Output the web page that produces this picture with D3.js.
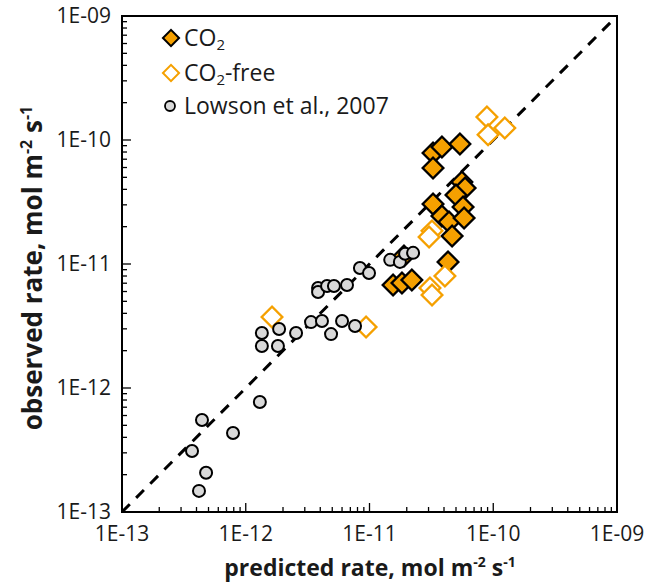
<!DOCTYPE html>
<html><head><meta charset="utf-8">
<script src="https://cdn.jsdelivr.net/npm/d3@7"></script>
<style>body{margin:0;background:#fff}svg{display:block}</style>
</head><body>
<svg id="c" width="660" height="585"></svg>
<script>
// predicted, observed (mol m-2 s-1)
const co2Pred = [3.26e-11,3.85e-11,5.38e-11,3.26e-11,5.58e-11,5.92e-11,5.0e-11,3.26e-11,5.70e-11,3.85e-11,4.39e-11,5.81e-11,4.65e-11,4.31e-11,1.55e-11,1.83e-11,2.20e-11,1.90e-11];
const co2Obs  = [7.85e-11,8.79e-11,9.29e-11,5.94e-11,4.58e-11,4.10e-11,3.60e-11,3.05e-11,2.88e-11,2.44e-11,2.18e-11,2.35e-11,1.68e-11,1.04e-11,6.78e-12,7.03e-12,7.43e-12,1.16e-11];
const freePred = [8.89e-11,9.08e-11,1.24e-10,3.20e-11,3.03e-11,4.07e-11,3.08e-11,3.20e-11,1.63e-12,9.38e-12];
const freeObs  = [1.53e-10,1.10e-10,1.25e-10,1.85e-11,1.65e-11,8.0e-12,6.40e-12,5.62e-12,3.74e-12,3.10e-12];
const lowPred = [3.68e-13,4.43e-13,4.78e-13,4.19e-13,7.89e-13,1.30e-12,1.35e-12,1.35e-12,1.86e-12,1.82e-12,2.55e-12,3.37e-12,4.13e-12,4.89e-12,6.0e-12,7.64e-12,3.84e-12,3.84e-12,4.54e-12,5.16e-12,6.58e-12,8.37e-12,9.91e-12,1.47e-11,1.76e-11,1.94e-11,2.25e-11];
const lowObs  = [3.10e-13,5.52e-13,2.07e-13,1.48e-13,4.34e-13,7.71e-13,2.78e-12,2.18e-12,2.99e-12,2.18e-12,2.78e-12,3.40e-12,3.47e-12,2.72e-12,3.47e-12,3.16e-12,6.40e-12,5.94e-12,6.65e-12,6.65e-12,6.78e-12,9.29e-12,8.45e-12,1.08e-11,1.04e-11,1.21e-11,1.23e-11];
const tickValues = [1e-13,1e-12,1e-11,1e-10,1e-9];
const tickLabels = ["1E-13","1E-12","1E-11","1E-10","1E-09"];
const seriesNames = ["CO2","CO2-free","Lowson et al., 2007"];

const ORANGE = "#F5A000", GRAY = "#D9D9D9";
const FONT = "'Open Sans', sans-serif";
const L = 122, R = 617, T = 16, B = 512;
const svg = d3.select("#c");
const x = d3.scaleLog().domain([1e-13,1e-9]).range([L,R]);
const y = d3.scaleLog().domain([1e-13,1e-9]).range([B,T]);

// minor ticks
const minor = [];
for (let d=-13; d<-9; d++) for (let m=2; m<=9; m++) minor.push(m*Math.pow(10,d));

const ax = svg.append("g").attr("stroke","#000").attr("stroke-width",1.3);
minor.forEach(v=>{
  ax.append("line").attr("x1",x(v)).attr("x2",x(v)).attr("y1",B).attr("y2",B-5);
  ax.append("line").attr("x1",L).attr("x2",L+5).attr("y1",y(v)).attr("y2",y(v));
});
tickValues.forEach(v=>{
  ax.append("line").attr("x1",x(v)).attr("x2",x(v)).attr("y1",B).attr("y2",B-9);
  ax.append("line").attr("x1",L).attr("x2",L+9).attr("y1",y(v)).attr("y2",y(v));
});

// 1:1 dashed line
svg.append("line").attr("x1",x(1e-13)).attr("y1",y(1e-13)).attr("x2",x(1e-9)).attr("y2",y(1e-9))
  .attr("stroke","#000").attr("stroke-width",3).attr("stroke-dasharray","11,9");

// frame
svg.append("rect").attr("x",L).attr("y",T).attr("width",R-L).attr("height",B-T)
  .attr("fill","none").attr("stroke","#000").attr("stroke-width",2);

// tick labels
tickValues.forEach((v,i)=>{
  svg.append("text").attr("x",x(v)).attr("y",541).attr("text-anchor","middle")
    .attr("font-family",FONT).attr("font-size",21).attr("fill","#1a1a1a").text(tickLabels[i]);
  svg.append("text").attr("x",111).attr("y",y(v)+7).attr("text-anchor","end")
    .attr("font-family",FONT).attr("font-size",21).attr("fill","#1a1a1a").text(tickLabels[i]);
});

const diamond = d3.symbol().type(d3.symbolSquare).size(215);
function dia(g, px, py, fill, stroke){
  g.append("path").attr("d",diamond()).attr("transform",`translate(${px},${py}) rotate(45)`)
   .attr("fill",fill).attr("stroke",stroke).attr("stroke-width",2.3);
}
const gp = svg.append("g");
co2Pred.forEach((p,i)=>dia(gp,x(p),y(co2Obs[i]),ORANGE,"#000"));
freePred.forEach((p,i)=>dia(gp,x(p),y(freeObs[i]),"#fff",ORANGE));
lowPred.forEach((p,i)=>gp.append("circle").attr("cx",x(p)).attr("cy",y(lowObs[i])).attr("r",6)
  .attr("fill",GRAY).attr("stroke","#000").attr("stroke-width",2));

// legend
const lg = svg.append("g");
const dsm = d3.symbol().type(d3.symbolSquare).size(130);
lg.append("path").attr("d",dsm()).attr("transform","translate(171,38) rotate(45)").attr("fill",ORANGE).attr("stroke","#000").attr("stroke-width",2);
lg.append("path").attr("d",dsm()).attr("transform","translate(171,73) rotate(45)").attr("fill","#fff").attr("stroke",ORANGE).attr("stroke-width",2);
lg.append("circle").attr("cx",170).attr("cy",106).attr("r",5).attr("fill",GRAY).attr("stroke","#000").attr("stroke-width",1.8);
function co2Text(yy, suffix){
  const t = lg.append("text").attr("x",184).attr("y",yy).attr("font-family",FONT).attr("font-size",23).attr("fill","#1a1a1a");
  t.append("tspan").text("CO");
  t.append("tspan").attr("font-size",15).attr("dy",4).text("2");
  if (suffix) t.append("tspan").attr("dy",-4).text(suffix);
}
co2Text(46, "");
co2Text(81, "-free");
lg.append("text").attr("x",184).attr("y",114).attr("font-family",FONT).attr("font-size",23).attr("fill","#1a1a1a").text(seriesNames[2]);

// axis titles
const xt = svg.append("text").attr("x",370).attr("y",576).attr("text-anchor","middle")
  .attr("font-family",FONT).attr("font-weight","bold").attr("font-size",23).attr("fill","#1a1a1a");
xt.append("tspan").text("predicted rate, mol m");
xt.append("tspan").attr("font-size",14).attr("dy",-9).text("-2");
xt.append("tspan").attr("dy",9).text(" s");
xt.append("tspan").attr("font-size",14).attr("dy",-9).text("-1");

const yt = svg.append("text").attr("transform","translate(42,268) rotate(-90)").attr("text-anchor","middle")
  .attr("font-family",FONT).attr("font-weight","bold").attr("font-size",26).attr("fill","#1a1a1a");
yt.append("tspan").text("observed rate, mol m");
yt.append("tspan").attr("font-size",16).attr("dy",-10).text("-2");
yt.append("tspan").attr("dy",10).text(" s");
yt.append("tspan").attr("font-size",16).attr("dy",-10).text("-1");
</script>
</body></html>
